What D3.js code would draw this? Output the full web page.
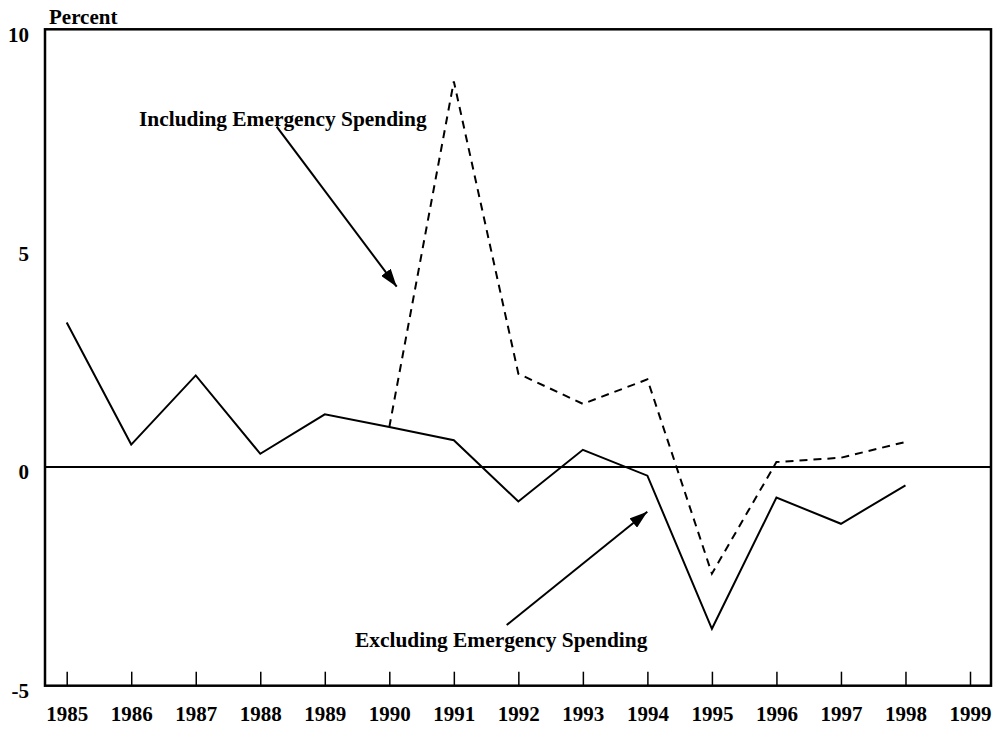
<!DOCTYPE html>
<html>
<head>
<meta charset="utf-8">
<script src="https://cdn.jsdelivr.net/npm/d3@7"></script>
<style>
  body { margin: 0; background: #fff; }
  text { font-family: "Liberation Serif", "Times New Roman", serif; font-weight: bold; fill: #000; }
</style>
</head>
<body>
<div id="chart"></div>
<script>
var years = [1985, 1986, 1987, 1988, 1989, 1990, 1991, 1992, 1993, 1994, 1995, 1996, 1997, 1998];
var excluding = [3.3, 0.51, 2.09, 0.3, 1.2, 0.91, 0.61, -0.79, 0.39, -0.2, -3.7, -0.7, -1.3, -0.42];
var includingYears = [1990, 1991, 1992, 1993, 1994, 1995, 1996, 1997, 1998];
var including = [0.91, 8.81, 2.13, 1.44, 2.0, -2.44, 0.11, 0.21, 0.57];
var xTicks = [1985, 1986, 1987, 1988, 1989, 1990, 1991, 1992, 1993, 1994, 1995, 1996, 1997, 1998, 1999];
var yTicks = [-5, 0, 5, 10];

var width = 997, height = 729;
var box = {left: 45, right: 991, top: 29.3, bottom: 685.7};

var svg = d3.select("#chart")
            .append("svg")
            .attr("width", width)
            .attr("height", height);

var x = d3.scaleLinear()
          .domain([1985, 1999])
          .range([66.7, 970]);

var y = d3.scaleLinear()
          .domain([-5, 10])
          .range([box.bottom, box.top]);

// arrow head
svg.append("defs").append("marker")
   .attr("id", "arrow")
   .attr("viewBox", "0 0 18 12")
   .attr("refX", 18)
   .attr("refY", 6)
   .attr("markerWidth", 18)
   .attr("markerHeight", 12)
   .attr("markerUnits", "userSpaceOnUse")
   .attr("orient", "auto")
   .append("path")
       .attr("d", "M0,0 L18,6 L0,12 Z")
       .attr("fill", "#000");

// x axis: ticks point up from the bottom of the box
svg.append("g")
   .attr("transform", "translate(0," + box.bottom + ")")
   .call(d3.axisBottom(x).tickValues(xTicks).tickFormat(function(d) { return String(d); })
           .tickSizeInner(-14).tickSizeOuter(0).tickPadding(20))
   .call(function(g) {
       g.select(".domain").remove();
       g.selectAll(".tick line").attr("stroke", "#000").attr("stroke-width", 1.5);
       g.selectAll(".tick text").attr("font-size", 21).attr("font-family", null);
   });

// y axis labels only
svg.append("g")
   .attr("transform", "translate(" + box.left + ",0)")
   .call(d3.axisLeft(y).tickValues(yTicks).tickFormat(function(d) { return String(d); })
           .tickSize(0).tickPadding(16))
   .call(function(g) {
       g.select(".domain").remove();
       g.selectAll(".tick text").attr("font-size", 21).attr("font-family", null).attr("dy", 12);
   });

svg.append("text")
   .attr("x", 49)
   .attr("y", 24)
   .attr("font-size", 21)
   .text("Percent");

// zero line
svg.append("line")
   .attr("x1", box.left).attr("x2", box.right)
   .attr("y1", y(0)).attr("y2", y(0))
   .attr("stroke", "#000")
   .attr("stroke-width", 2);

var line = d3.line()
             .x(function(d) { return x(d[0]); })
             .y(function(d) { return y(d[1]); });

svg.append("path")
   .datum(includingYears.map(function(d, i) { return [d, including[i]]; }))
   .attr("d", line)
   .attr("fill", "none")
   .attr("stroke", "#000")
   .attr("stroke-width", 2)
   .attr("stroke-dasharray", "8,6");

svg.append("path")
   .datum(years.map(function(d, i) { return [d, excluding[i]]; }))
   .attr("d", line)
   .attr("fill", "none")
   .attr("stroke", "#000")
   .attr("stroke-width", 2);

// frame
svg.append("rect")
   .attr("x", box.left)
   .attr("y", box.top)
   .attr("width", box.right - box.left)
   .attr("height", box.bottom - box.top)
   .attr("fill", "none")
   .attr("stroke", "#000")
   .attr("stroke-width", 2.5);

// annotations
svg.append("text")
   .attr("x", 139)
   .attr("y", 126)
   .attr("font-size", 21.4)
   .text("Including Emergency Spending");

svg.append("line")
   .attr("x1", 276.7).attr("y1", 126.7)
   .attr("x2", 396.7).attr("y2", 286.7)
   .attr("stroke", "#000")
   .attr("stroke-width", 2)
   .attr("marker-end", "url(#arrow)");

svg.append("text")
   .attr("x", 355)
   .attr("y", 646.7)
   .attr("font-size", 21.4)
   .text("Excluding Emergency Spending");

svg.append("line")
   .attr("x1", 506.7).attr("y1", 625)
   .attr("x2", 647.3).attr("y2", 511.7)
   .attr("stroke", "#000")
   .attr("stroke-width", 2)
   .attr("marker-end", "url(#arrow)");
</script>
</body>
</html>
